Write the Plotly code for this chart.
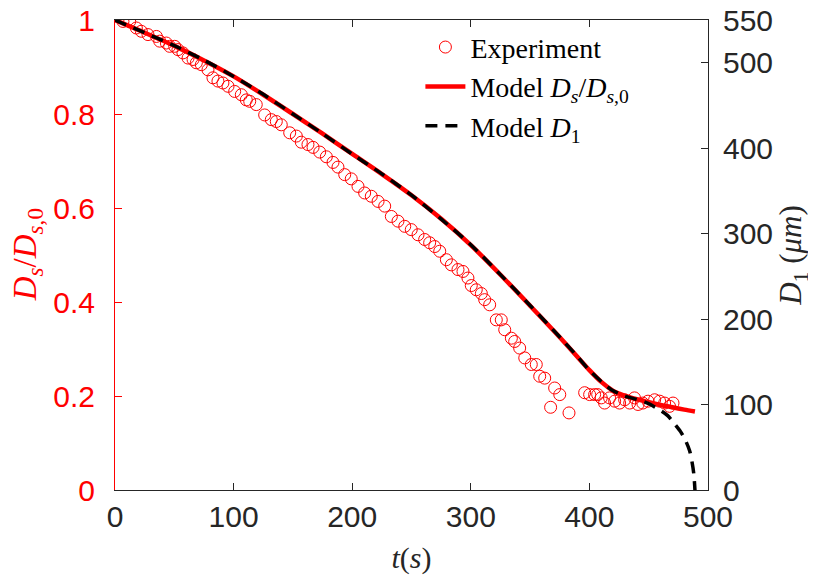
import plotly.graph_objects as go

# ---------------- data ----------------
t_exp = [6.7, 12.4, 18.0, 22.2, 27.8, 34.9, 37.7, 43.3, 46.1, 50.3, 53.1, 57.3, 61.6, 65.8,
         68.6, 72.8, 78.4, 82.6, 86.8, 91.0, 95.3, 100.9, 106.5, 110.7, 113.6, 119.1, 126.2,
         131.8, 136.0, 140.2, 147.3, 152.9, 157.1, 162.7, 167.0, 172.6, 178.2, 183.8, 188.0,
         193.7, 199.2, 204.9, 210.5, 216.1, 221.8, 227.4, 233.0, 238.6, 244.3, 249.8, 255.5,
         261.1, 265.3, 269.6, 273.8, 279.4, 283.6, 289.2, 293.4, 297.6, 300.4, 304.6, 308.9,
         311.7, 315.9, 321.5, 325.7, 328.6, 334.2, 337.0, 341.2, 345.5, 351.0, 355.2, 358.1,
         362.3, 367.3, 370.7, 375.0, 382.8, 396.0, 400.2, 404.4, 407.0, 410.0, 412.8, 417.0,
         421.3, 425.5, 429.7, 434.0, 438.0, 441.0, 445.0, 449.4, 455.0, 459.2, 463.4, 467.6,
         470.5]
ds_exp = [0.997, 0.997, 0.983, 0.976, 0.969, 0.965, 0.955, 0.951, 0.944, 0.944, 0.937, 0.930,
          0.919, 0.916, 0.909, 0.905, 0.894, 0.877, 0.870, 0.866, 0.859, 0.848, 0.841, 0.830,
          0.827, 0.820, 0.798, 0.788, 0.784, 0.777, 0.760, 0.753, 0.740, 0.735, 0.729, 0.719,
          0.709, 0.697, 0.687, 0.671, 0.662, 0.646, 0.632, 0.625, 0.614, 0.604, 0.582, 0.572,
          0.561, 0.554, 0.543, 0.533, 0.526, 0.518, 0.508, 0.490, 0.479, 0.469, 0.465, 0.451,
          0.435, 0.426, 0.418, 0.405, 0.394, 0.362, 0.362, 0.341, 0.323, 0.316, 0.302, 0.281,
          0.267, 0.267, 0.242, 0.238, 0.176, 0.217, 0.203, 0.164, 0.207, 0.203, 0.203, 0.203,
          0.196, 0.185, 0.196, 0.189, 0.185, 0.192, 0.185, 0.196, 0.182, 0.185, 0.189, 0.192,
          0.189, 0.185, 0.178, 0.185]

t_model = [0, 25, 50, 75, 100, 125, 150, 175, 200, 225, 250, 275, 300, 325, 350, 375, 390,
           400, 410, 420, 425, 430, 440, 450, 460, 470, 480, 489]
ds_model = [1.000, 0.973, 0.945, 0.914, 0.880, 0.841, 0.800, 0.758, 0.715, 0.672, 0.627,
            0.577, 0.521, 0.458, 0.392, 0.325, 0.283, 0.255, 0.230, 0.211, 0.205, 0.200,
            0.193, 0.187, 0.181, 0.176, 0.171, 0.167]

t_d1 = [0, 25, 50, 75, 100, 125, 150, 175, 200, 225, 250, 275, 300, 325, 350, 375, 390, 400,
        410, 420, 425, 430, 440, 450, 460, 466, 472, 477, 481, 484.5, 486.5, 488, 489]
d1_model = [550, 535, 520, 503, 484, 463, 440, 417, 393, 370, 345, 317, 287, 252, 216, 179,
            156, 140, 127, 116, 113, 110, 106, 101, 93, 87, 77, 68, 58, 46, 33, 19, 0]

x_ticks = [0, 100, 200, 300, 400, 500]
left_ticks = [0, 0.2, 0.4, 0.6, 0.8, 1]
left_ticktext = ["0", "0.2", "0.4", "0.6", "0.8", "1"]
right_ticks = [0, 100, 200, 300, 400, 500, 550]

# ---------------- figure ----------------
RED = "#FF0000"
AX = "#262626"
SANS = "Liberation Sans, Arial, sans-serif"
SERIF = "Liberation Serif, Times New Roman, serif"

fig = go.Figure()
fig.add_trace(go.Scatter(
    x=t_exp, y=ds_exp, mode="markers", name="Experiment", legendgroup="a",
    marker=dict(symbol="circle-open", size=12, color=RED, line=dict(width=1, color=RED)),
    yaxis="y"))
fig.add_trace(go.Scatter(
    x=t_model, y=ds_model, mode="lines", legendgroup="b",
    name="Model <i>D<sub>s</sub></i>/<i>D</i><sub><i>s</i>,0</sub>",
    line=dict(color=RED, width=4.5, shape="spline", smoothing=0.8), yaxis="y"))
fig.add_trace(go.Scatter(
    x=t_d1, y=d1_model, mode="lines", legendgroup="c",
    name="Model <i>D</i><sub>1</sub>",
    line=dict(color="black", width=3.5, dash="12px,8px", shape="spline", smoothing=0.8),
    yaxis="y2"))

fig.update_layout(
    width=816, height=578,
    margin=dict(l=107, r=116, t=12, b=96, autoexpand=False),
    paper_bgcolor="white", plot_bgcolor="white",
    showlegend=True,
    legend=dict(x=0.515, y=0.995, xanchor="left", yanchor="top",
                bgcolor="rgba(0,0,0,0)", font=dict(family=SERIF, size=28, color="black"),
                tracegroupgap=0, itemwidth=40),
    xaxis=dict(range=[0, 500], tickvals=x_ticks, ticks="inside", ticklen=7, tickcolor=AX,
               showline=True, linecolor=AX, linewidth=1, mirror="ticks", automargin=False,
               showgrid=False, zeroline=False, ticklabeloverflow="allow",
               tickfont=dict(family=SANS, size=30, color=AX), ticklabelstandoff=0,
               title=dict(text="<i>t</i>(<i>s</i>)", font=dict(family=SERIF, size=30, color=AX),
                          standoff=14)),
    yaxis=dict(range=[0, 1], tickvals=left_ticks, ticktext=left_ticktext,
               ticks="inside", ticklen=7, tickcolor=RED, automargin=False,
               showline=True, linecolor=RED, linewidth=1,
               showgrid=False, zeroline=False, ticklabeloverflow="allow",
               tickfont=dict(family=SANS, size=30, color=RED), ticklabelstandoff=13),
    yaxis2=dict(range=[0, 550], tickvals=right_ticks, overlaying="y", side="right",
                ticks="inside", ticklen=7, tickcolor=AX, automargin=False,
                showline=True, linecolor=AX, linewidth=1,
                showgrid=False, zeroline=False, ticklabeloverflow="allow",
                tickfont=dict(family=SANS, size=30, color=AX), ticklabelstandoff=8,
                title=dict(text="<i>D</i><sub>1</sub> (<i>μm</i>)",
                           font=dict(family=SERIF, size=31, color=AX), standoff=7)),
    annotations=[dict(text="<i>D<sub>s</sub></i>/<i>D</i><sub><i>s</i>,0</sub>",
                      xref="paper", yref="paper", x=-0.148, y=0.5, xanchor="center",
                      yanchor="middle", textangle=-90, showarrow=False,
                      font=dict(family=SERIF, size=33, color=RED))],
)

fig.write_html("out.html")
